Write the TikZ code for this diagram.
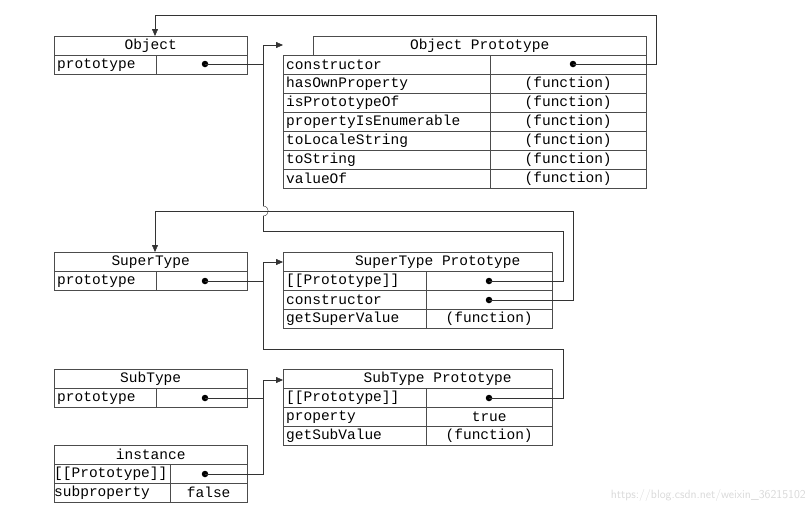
\documentclass[tikz,border=0pt]{standalone}
\usepackage{fontspec}
\setmainfont{Liberation Mono}
\usetikzlibrary{arrows.meta}
\begin{document}
\begin{tikzpicture}
[
 x=1pt, y=-1pt,
 every node/.style={font=\fontsize{14.5}{15}\selectfont},
 inner sep=0pt,
 CELL/.style={rectangle, draw=black!70, thin, minimum height=19pt, anchor=north west},
 NAME/.style={CELL, align=left, inner xsep=3pt},
 VALUE/.style={CELL, align=center},
 DOT/.style={circle, fill=black, minimum size=6.5pt},
 LINK/.style={draw=black!80, thin},
 ARR/.style={LINK, -{Triangle[length=7pt,width=6pt]}},
 ]
%
\useasboundingbox (0,0) rectangle (811,515);
%
% Object
\node [CELL, minimum width=193pt]  (OT) at ( 54, 36) {\makebox[193pt]{Object}};
\node [NAME, text width=96pt]      (OP) at ( 54, 55) {prototype};
\node [VALUE, minimum width=91pt]  (OV) at (156, 55) {};
%
% Object Prototype
\node [CELL, minimum width=333pt]  (PT) at (313, 36) {\makebox[333pt]{Object Prototype}};
\foreach \n/\v [count=\i from 0] in {constructor/,
   hasOwnProperty/(function), isPrototypeOf/(function),
   propertyIsEnumerable/(function), toLocaleString/(function),
   toString/(function), valueOf/(function)}
   {
     \node [NAME, text width=201pt]    (PN\i) at (283, 55+19*\i) {\n};
     \node [VALUE, minimum width=156pt] (PV\i) at (490, 55+19*\i) {\v};
   }
%
% SuperType
\node [CELL, minimum width=193pt]  (ST) at ( 54,252) {\makebox[193pt]{SuperType}};
\node [NAME, text width=96pt]      (SP) at ( 54,271) {prototype};
\node [VALUE, minimum width=91pt]  (SV) at (156,271) {};
%
% SuperType Prototype
\node [CELL, minimum width=269pt]  (QT) at (283,252) {\makebox[269pt]{\hspace{40pt}SuperType Prototype}};
\foreach \n/\v [count=\i from 0] in {{[[Prototype]]}/, constructor/, getSuperValue/(function)}
   {
     \node [NAME, text width=137pt]    (QN\i) at (283, 271+19*\i) {\n};
     \node [VALUE, minimum width=126pt] (QV\i) at (426, 271+19*\i) {\v};
   }
%
% SubType
\node [CELL, minimum width=193pt]  (BT) at ( 54,369) {\makebox[193pt]{SubType}};
\node [NAME, text width=96pt]      (BP) at ( 54,388) {prototype};
\node [VALUE, minimum width=91pt]  (BV) at (156,388) {};
%
% SubType Prototype
\node [CELL, minimum width=269pt]  (RT) at (283,369) {\makebox[269pt]{\hspace{40pt}SubType Prototype}};
\foreach \n/\v [count=\i from 0] in {{[[Prototype]]}/, property/true, getSubValue/(function)}
   {
     \node [NAME, text width=137pt]    (RN\i) at (283, 388+19*\i) {\n};
     \node [VALUE, minimum width=126pt] (RV\i) at (426, 388+19*\i) {\v};
   }
%
% instance
\node [CELL, minimum width=193pt]  (IT) at ( 54,445) {\makebox[193pt]{instance}};
\node [NAME, text width=116pt, inner xsep=0pt] (IN0) at ( 54,464) {[[Prototype]]};
\node [VALUE, minimum width=77pt]  (IV0) at (170,464) {};
\node [NAME, text width=116pt, inner xsep=0pt] (IN1) at ( 54,483) {subproperty};
\node [VALUE, minimum width=77pt]  (IV1) at (170,483) {false};
%
% dots
\node [DOT] (dO)  at (205, 64) {};
\node [DOT] (dC)  at (573, 64) {};
\node [DOT] (dS)  at (205,281) {};
\node [DOT] (dQ0) at (489,281) {};
\node [DOT] (dQ1) at (489,300) {};
\node [DOT] (dB)  at (205,398) {};
\node [DOT] (dR0) at (489,398) {};
\node [DOT] (dI)  at (205,474) {};
%
% arrow ends
\coordinate (aO) at (155, 36);
\coordinate (aP) at (283, 45);
\coordinate (aS) at (155,252);
\coordinate (aQ) at (283,262);
\coordinate (aR) at (283,380);
\coordinate (j1) at (263,216);
\coordinate (j2) at (263,206);
%
% connectors
\draw [ARR]  (dC.center) -- (656,64) -- (656,15) -- (155,15) -- (aO) ;
\draw [LINK] (dO.center) -- (263,64) ;
\draw [LINK] (dQ0.center) -- (563,281) -- (563,231) -- (263,231) -- (j1) ;
\draw [LINK] (j1) .. controls (270,216) and (270,206) .. (j2) ;
\draw [ARR]  (j2) -- (263,45) -- (aP) ;
\draw [ARR]  (dQ1.center) -- (573,300) -- (573,211) -- (155,211) -- (aS) ;
\draw [LINK] (dS.center) -- (263,281) ;
\draw [ARR]  (dR0.center) -- (563,398) -- (563,349) -- (263,349) -- (263,262) -- (aQ) ;
\draw [LINK] (dB.center) -- (263,398) ;
\draw [ARR]  (dI.center) -- (263,474) -- (263,380) -- (aR) ;
%
\node [text=black!15, font=\fontsize{12}{12}\selectfont\sffamily, anchor=east] (wm) at (806,495) {https://blog.csdn.net/weixin\_36215102};
%
\end{tikzpicture}
\end{document}
